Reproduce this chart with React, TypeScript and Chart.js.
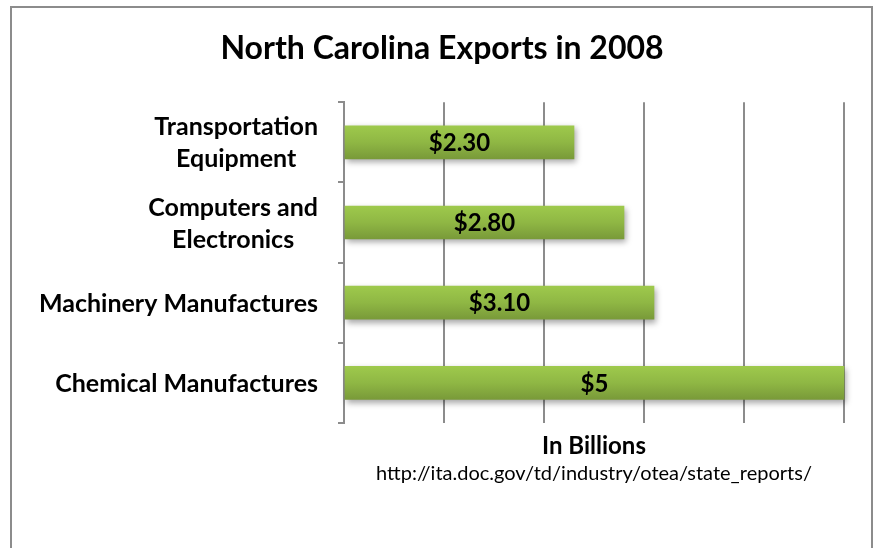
import React, { useEffect, useRef } from "react";
import { Chart, registerables } from "chart.js";

Chart.register(...registerables);

const TITLE = "North Carolina Exports in 2008";
const categories: string[][] = [
  ["Transportation", "Equipment"],
  ["Computers and", "Electronics"],
  ["Machinery Manufactures"],
  ["Chemical Manufactures"],
];
const values: number[] = [2.3, 2.8, 3.1, 5];
const valueLabels: string[] = ["$2.30", "$2.80", "$3.10", "$5"];
const xMin = 0;
const xMax = 5;
const xStep = 1;
const X_TITLE = "In Billions";
const SOURCE = "http://ita.doc.gov/td/industry/otea/state_reports/";

const FONT = "Lato, 'Open Sans', sans-serif";
const GRID = "#8c8c8c";
const BAR = 33;

export default function App() {
  const ref = useRef<HTMLCanvasElement | null>(null);

  useEffect(() => {
    if (!ref.current) return;

    const labelPlugin = {
      id: "labelPlugin",
      beforeDatasetsDraw(chart: any) {
        const c = chart.ctx;
        c.save();
        c.shadowColor = "rgba(0,0,0,0.35)";
        c.shadowBlur = 6;
        c.shadowOffsetX = 2;
        c.shadowOffsetY = 3;
      },
      afterDatasetsDraw(chart: any) {
        const c = chart.ctx;
        c.restore();
        const meta = chart.getDatasetMeta(0);
        c.save();
        c.font = `bold 24px ${FONT}`;
        c.fillStyle = "#000";
        c.textAlign = "center";
        c.textBaseline = "middle";
        meta.data.forEach((el: any, i: number) => {
          const p = el.getCenterPoint();
          c.fillText(valueLabels[i], p.x, p.y + 1);
        });
        c.restore();
        const ys = chart.scales.y;
        c.save();
        c.font = `bold 25px ${FONT}`;
        c.fillStyle = "#000";
        c.textAlign = "center";
        c.textBaseline = "middle";
        const right = ys.right - 26;
        const lh = 32;
        categories.forEach((lines, i) => {
          const cy = ys.getPixelForTick(i);
          const w = Math.max(...lines.map((l) => c.measureText(l).width));
          const cx = right - w / 2;
          const y0 = cy - ((lines.length - 1) * lh) / 2;
          lines.forEach((l, j) => c.fillText(l, cx, y0 + j * lh + 1));
        });
        c.restore();
      },
    };

    const chart = new Chart(ref.current, {
      type: "bar",
      data: {
        labels: categories.map((l) => l.join(" ")),
        datasets: [
          {
            data: values,
            barThickness: BAR,
            clip: false as any,
            borderWidth: 0,
            backgroundColor: (ctx: any) => {
              const ch = ctx.chart;
              const ys = ch.scales && ch.scales.y;
              if (!ys || ctx.dataIndex === undefined) return "#8db443";
              const cy = ys.getPixelForValue(ctx.dataIndex);
              if (!Number.isFinite(cy)) return "#8db443";
              const g = ch.ctx.createLinearGradient(0, cy - BAR / 2, 0, cy + BAR / 2);
              g.addColorStop(0, "#9ec94c");
              g.addColorStop(0.5, "#8fb744");
              g.addColorStop(1, "#799a39");
              return g;
            },
          },
        ],
      },
      options: {
        indexAxis: "y",
        responsive: false,
        animation: false,
        layout: { padding: { left: 40, right: 30, top: 0, bottom: 62 } },
        plugins: {
          legend: { display: false },
          tooltip: { enabled: false },
          title: {
            display: true,
            text: TITLE,
            color: "#000",
            font: { family: FONT, size: 32, weight: "bold", lineHeight: 1.2 },
            padding: { top: 29.8, bottom: 34 },
          },
        },
        scales: {
          x: {
            type: "linear",
            position: "bottom",
            min: xMin,
            max: xMax,
            ticks: { display: false, stepSize: xStep },
            grid: { color: GRID, lineWidth: 2, drawTicks: false },
            border: { display: false },
            title: {
              display: true,
              text: X_TITLE,
              color: "#000",
              font: { family: FONT, size: 24, weight: "bold", lineHeight: 1.2 },
              padding: { top: 8.6, bottom: 0 },
            },
          },
          x2: {
            type: "linear",
            position: "bottom",
            weight: 1,
            ticks: { display: false },
            grid: { display: false, drawTicks: false },
            border: { display: false },
            title: {
              display: true,
              text: SOURCE,
              color: "#000",
              font: { family: FONT, size: 20, weight: "normal", lineHeight: 1.2 },
              padding: { top: 1.6, bottom: 0 },
            },
          },
          y: {
            type: "category",
            ticks: { display: false },
            grid: {
              offset: true,
              drawOnChartArea: false,
              drawTicks: true,
              tickLength: 6,
              color: GRID,
              lineWidth: 2,
            },
            border: { display: true, color: GRID, width: 2 },
            afterFit: (scale: any) => {
              scale.width = 304;
            },
          },
        },
      },
      plugins: [labelPlugin],
    } as any);

    return () => chart.destroy();
  }, []);

  return (
    <div
      style={{
        position: "fixed",
        left: 0,
        top: 0,
        width: 874,
        height: 548,
        overflow: "hidden",
        background: "#fff",
      }}
    >
      <div
        style={{
          position: "absolute",
          left: 10,
          top: 6,
          width: 859,
          height: 600,
          border: "2px solid #8c8c8c",
        }}
      />
      <canvas
        ref={ref}
        width={874}
        height={548}
        style={{ position: "absolute", left: 0, top: 0 }}
      />
    </div>
  );
}
